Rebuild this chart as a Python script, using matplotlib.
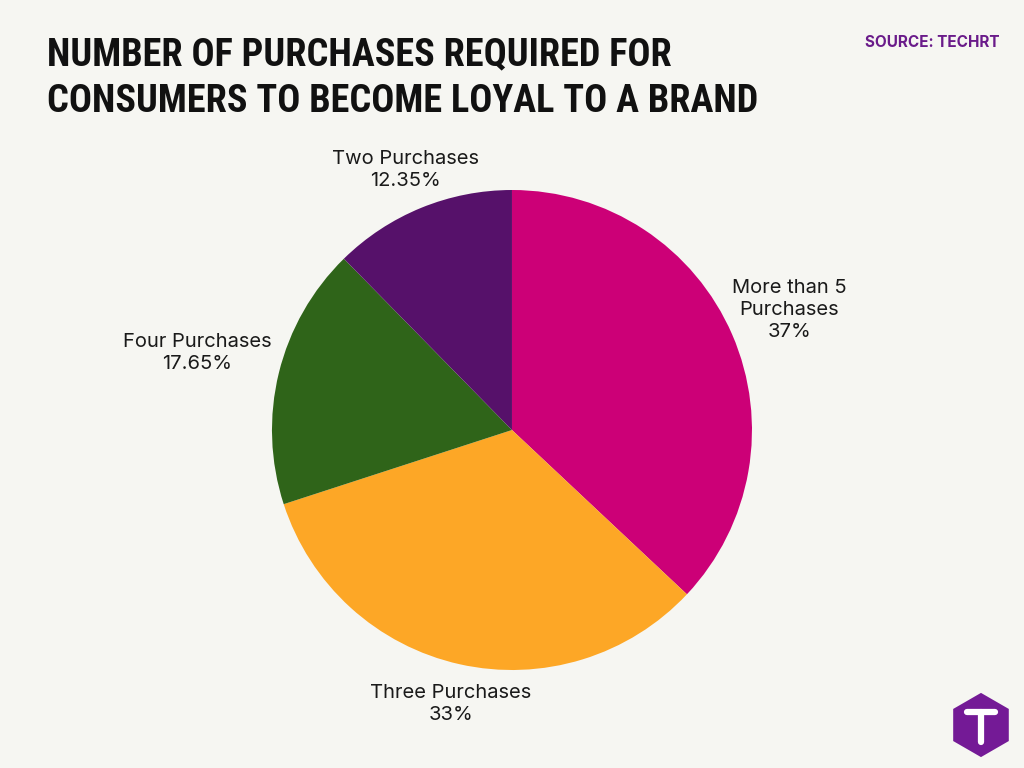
import matplotlib.pyplot as plt
from matplotlib.patches import RegularPolygon
import numpy as np

# Data
labels = ["More than 5\nPurchases", "Three Purchases", "Four Purchases", "Two Purchases"]
shares = [37, 33, 17.65, 12.35]
share_text = ["37%", "33%", "17.65%", "12.35%"]
colors = ["#cc0077", "#fda726", "#2f6419", "#56116a"]

bg = "#f6f6f2"
fig = plt.figure(figsize=(10.24, 7.68), dpi=100, facecolor=bg)

# title + source
fig.text(0.046, 0.952, "NUMBER OF PURCHASES REQUIRED FOR\nCONSUMERS TO BECOME LOYAL TO A BRAND",
         fontsize=27.5, fontweight="bold", family=["Roboto Condensed", "Roboto"],
         color="#111111", va="top", ha="left", linespacing=1.32)
fig.text(0.976, 0.945, "SOURCE: TECHRT", fontsize=11, fontweight="bold", family="Inter",
         color="#6a1b8a", ha="right", va="center")

# pie
ax = fig.add_axes([0.2656, 0.1276, 0.46875, 0.625])
wedges, _ = ax.pie(shares, colors=colors, startangle=90, counterclock=False,
                   wedgeprops=dict(linewidth=0))
ax.set_xlim(-1, 1)
ax.set_ylim(-1, 1)
ax.set_aspect("equal")

dist = [1.26, 1.17, 1.35, 1.17]
for w, lab, pct, d in zip(wedges, labels, share_text, dist):
    ang = np.deg2rad((w.theta1 + w.theta2) / 2)
    ax.text(d * np.cos(ang), d * np.sin(ang), lab + "\n" + pct, ha="center", va="center",
            fontsize=14.5, family="Inter", color="#1a1a1a", linespacing=1.3)

# logo
lax = fig.add_axes([0.925, 0.012, 0.066, 0.088])
lax.set_xlim(-1, 1)
lax.set_ylim(-1, 1)
lax.set_aspect("equal")
lax.axis("off")
lax.add_patch(RegularPolygon((0, 0), numVertices=6, radius=0.95, orientation=0,
                             facecolor="#741a96", edgecolor="none"))
lax.plot([-0.42, 0.42], [0.38, 0.38], color="white", lw=4.5, solid_capstyle="round")
lax.plot([0, 0], [0.38, -0.5], color="white", lw=4.5, solid_capstyle="round")

fig.savefig("out.png", dpi=100, facecolor=bg)
